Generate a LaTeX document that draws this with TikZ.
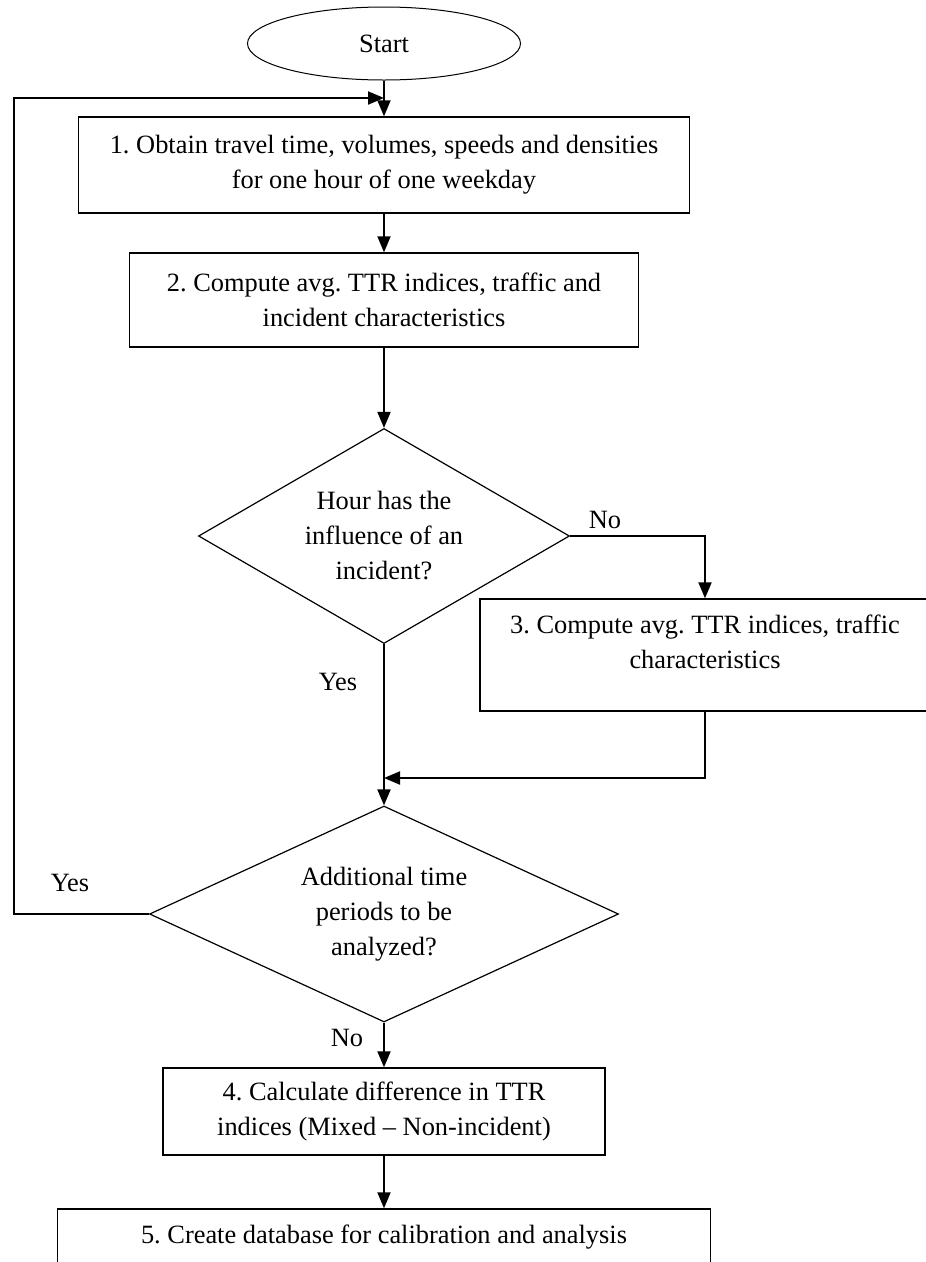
\documentclass[tikz,border=0pt]{standalone}
\usepackage{fontspec}
\setmainfont{Liberation Serif}
\usetikzlibrary{arrows.meta,shapes.geometric}
\frenchspacing
\begin{document}
\begin{tikzpicture}[x=1pt,y=-1pt,
  every node/.style={font=\fontsize{26.4}{35}\selectfont},
  stepbox/.style={draw,rectangle,line width=1.4pt,align=center,inner sep=0pt},
  decision/.style={draw,diamond,line width=1.2pt,align=center,inner sep=0pt,aspect=1.7},
  terminal/.style={draw,ellipse,line width=1pt,inner sep=0pt,minimum width=273pt,minimum height=73pt},
  flowline/.style={line width=2pt,-{Triangle[length=16pt,width=13pt]}}]
\useasboundingbox (0,0) rectangle (926,1262);

% blocks
\node[terminal] (start) at (384,43.5) {Start};
\node[stepbox,minimum width=611pt,minimum height=96pt] (obtain) at (384,165)
  {1. Obtain travel time, volumes, speeds and densities\\for one hour of one weekday};
\node[stepbox,minimum width=509pt,minimum height=94pt] (mixed) at (384,300)
  {2. Compute avg. TTR indices, traffic and\\incident characteristics};
\node[decision,minimum width=371pt,minimum height=215pt] (incident) at (384,536)
  {Hour has the\\influence of an\\incident?};
\node[stepbox,minimum width=450pt,text height=69pt,text depth=43pt] (nonincident) at (705,655)
  {3. Compute avg. TTR indices, traffic\\characteristics};
\node[decision,minimum width=469pt,minimum height=216pt] (more) at (384,914)
  {Additional time\\periods to be\\analyzed?};
\node[stepbox,minimum width=442pt,minimum height=87pt] (diff) at (384,1111.5)
  {4. Calculate difference in TTR\\indices (Mixed -- Non-incident)};
\node[stepbox,minimum width=653pt,minimum height=56pt] (database) at (384,1237)
  {5. Create database for calibration and analysis};

% helper points
\coordinate (join) at (384,98);
\coordinate (loopleft) at (14,914);
\coordinate (merge) at (384,778);

% connectors
\draw[flowline] (start.south) -- (obtain.north);
\draw[flowline] (obtain.south) -- (mixed.north);
\draw[flowline] (mixed.south) -- (incident.north);
\draw[flowline] (incident.east) -| (nonincident.north);
\draw[flowline] (incident.south) -- (more.north);
\draw[flowline] (nonincident.south) |- (merge);
\draw[flowline] (more.west) -- (loopleft) |- (join);
\draw[flowline] (more.south) -- (diff.north);
\draw[flowline] (diff.south) -- (database.north);

% labels
\node (no1) at (605,520) {No};
\node (yes1) at (338,682) {Yes};
\node (yes2) at (70,883) {Yes};
\node (no2) at (347,1038) {No};
\end{tikzpicture}
\end{document}
